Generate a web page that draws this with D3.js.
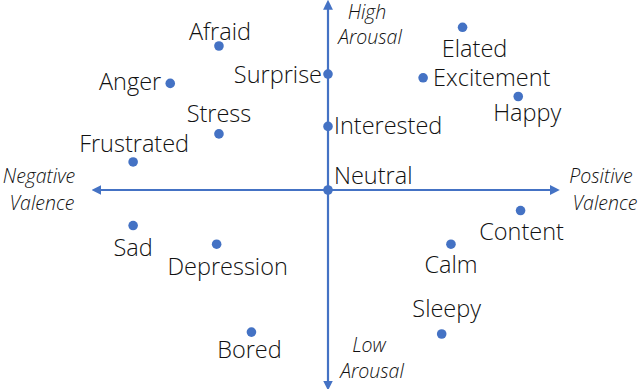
<!DOCTYPE html>
<html>
<head>
<meta charset="utf-8">
<script src="https://cdn.jsdelivr.net/npm/d3@7"></script>
<style>
  body { margin: 0; background: #fff; }
  text { font-family: "Open Sans", "Noto Sans", sans-serif; fill: #111; }
</style>
</head>
<body>
<script>
// emotions on the valence / arousal plane
var emotions = ["Afraid", "Anger", "Stress", "Frustrated", "Surprise", "Interested", "Neutral",
                "Elated", "Excitement", "Happy", "Sad", "Depression", "Bored",
                "Content", "Calm", "Sleepy"];
var valence = [-0.47, -0.68, -0.47, -0.84, 0, 0, 0,
               0.58, 0.41, 0.82, -0.84, -0.48, -0.33,
               0.83, 0.53, 0.49];
var arousal = [0.77, 0.57, 0.30, 0.15, 0.62, 0.34, 0,
               0.87, 0.60, 0.50, -0.19, -0.29, -0.76,
               -0.11, -0.29, -0.77];

// label layout: anchor and offset from the dot
var labelAnchor = ["middle", "end", "middle", "middle", "end", "start", "start",
                   "middle", "start", "middle", "middle", "middle", "middle",
                   "middle", "middle", "middle"];
var labelDx = [1, -9, 0, 1, -6, 6, 6, 12, 10, 9, 0, 11, -2, 1, 0, 5];
var labelDy = [-6, 7, -12, -10, 9, 8, -6, 30, 8, 24, 30, 31, 26, 29, 29, -17];

var width = 640, height = 389;
var blue = "#4472C4";

var svg = d3.select("body").append("svg")
            .attr("width", width)
            .attr("height", height);

var x = d3.scaleLinear().domain([-1, 1]).range([96, 560]);
var y = d3.scaleLinear().domain([-1, 1]).range([377, 3]);

svg.append("defs").append("marker")
   .attr("id", "head")
   .attr("viewBox", "0 0 10 10")
   .attr("refX", 2).attr("refY", 5)
   .attr("markerWidth", 4.5).attr("markerHeight", 4.5)
   .attr("orient", "auto-start-reverse")
   .append("path")
   .attr("d", "M0,0 L10,5 L0,10 z")
   .attr("fill", blue);

// valence axis
svg.append("line")
   .attr("x1", x(-0.985)).attr("y1", y(0))
   .attr("x2", x(0.965)).attr("y2", y(0))
   .attr("stroke", blue).attr("stroke-width", 2.2)
   .attr("marker-start", "url(#head)")
   .attr("marker-end", "url(#head)");

// arousal axis
svg.append("line")
   .attr("x1", x(0)).attr("y1", y(-1.03))
   .attr("x2", x(0)).attr("y2", y(0.975))
   .attr("stroke", blue).attr("stroke-width", 2.2)
   .attr("marker-start", "url(#head)")
   .attr("marker-end", "url(#head)");

// axis captions
var captions = [
  {t: "High", x: 367, y: 19}, {t: "Arousal", x: 370, y: 44},
  {t: "Low", x: 369, y: 352}, {t: "Arousal", x: 372, y: 378},
  {t: "Negative", x: 39, y: 183}, {t: "Valence", x: 42, y: 210},
  {t: "Positive", x: 601, y: 183}, {t: "Valence", x: 605, y: 210}
];
svg.selectAll("text.cap").data(captions).enter().append("text")
   .attr("class", "cap")
   .attr("x", d => d.x).attr("y", d => d.y)
   .attr("text-anchor", "middle")
   .style("font-style", "italic")
   .style("font-size", "19.5px")
   .style("font-weight", 300)
   .text(d => d.t);

var pts = emotions.map((e, i) => ({name: e, v: valence[i], a: arousal[i], i: i}));

svg.selectAll("circle").data(pts).enter().append("circle")
   .attr("cx", d => x(d.v))
   .attr("cy", d => y(d.a))
   .attr("r", 4.8)
   .attr("fill", blue);

svg.selectAll("text.lbl").data(pts).enter().append("text")
   .attr("class", "lbl")
   .attr("x", d => x(d.v) + labelDx[d.i])
   .attr("y", d => y(d.a) + labelDy[d.i])
   .attr("text-anchor", d => labelAnchor[d.i])
   .style("font-size", "23.5px")
   .style("font-weight", 300)
   .text(d => d.name);
</script>
</body>
</html>
